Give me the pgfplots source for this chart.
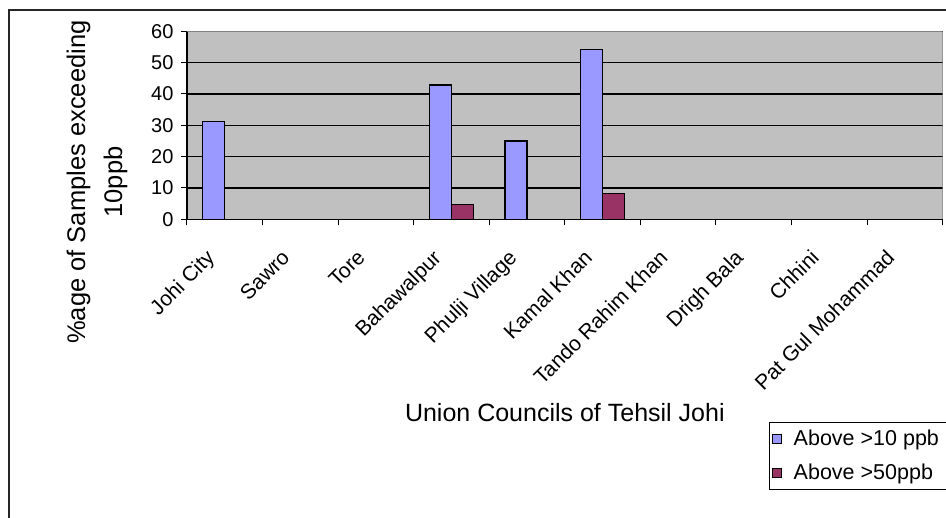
\documentclass[border=0pt]{standalone}
\usepackage{fontspec}
\setmainfont{Liberation Sans}
\usepackage{pgfplots}
\pgfplotsset{compat=1.18}
\definecolor{barblue}{HTML}{9999FF}
\definecolor{barred}{HTML}{993366}
\definecolor{plotgray}{HTML}{C0C0C0}
\begin{document}
\begin{tikzpicture}[x=1pt,y=1pt]
\path[use as bounding box] (0,0) rectangle (946,518);
\draw[line width=2pt, black!85] (9,-20) -- (9,508) -- (970,508);
\begin{axis}[
  at={(187pt,298.7pt)}, anchor=south west,
  width=755.7pt, height=188pt, scale only axis,
  xmin=-0.5, xmax=9.5, ymin=0, ymax=60,
  axis lines*=left,
  axis line style={black, line width=1.2pt},
  axis background/.style={fill=plotgray},
  ybar=0pt, bar width=22pt,
  tick align=outside,
  xtick={0,...,9},
  xticklabels={Johi City,Sawro,Tore,Bahawalpur,Phulji Village,Kamal Khan,Tando Rahim Khan,Drigh Bala,Chhini,Pat Gul Mohammad},
  major x tick style={draw=none},
  minor xtick={-0.5,0.5,...,9.5},
  minor tick length=6pt,
  minor x tick style={black, line width=1pt},
  ytick={0,10,...,60},
  major tick length=6pt,
  y tick style={black, line width=1pt},
  ymajorgrids, major grid style={black, line width=1.2pt},
  /pgf/number format/assume math mode=true,
  yticklabel style={font=\fontsize{20}{22}\selectfont, xshift=-4pt},
  xticklabel style={font=\fontsize{21}{24}\selectfont, xshift=-20pt, yshift=-23pt, rotate=45, anchor=north east, inner sep=0pt},
  xlabel={Union Councils of Tehsil Johi},
  xlabel style={font=\fontsize{25}{28}\selectfont, at={(axis description cs:0.5,-1.073)}, anchor=base},
  ylabel={\%age of Samples exceeding\\10ppb},
  ylabel style={font=\fontsize{25.5}{37}\selectfont, align=center, at={(axis description cs:-0.119,0.198)}, anchor=center},
  legend style={at={(axis description cs:0.7702,-1.0766)}, anchor=north west, draw=black, line width=1pt, fill=white,
    font=\fontsize{21.5}{24}\selectfont, row sep=17pt, inner xsep=2pt, inner ysep=8pt,
    nodes={inner xsep=6pt, inner ysep=0pt},
    /tikz/every odd column/.append style={column sep=6pt}},
  legend cell align=left,
  legend image code/.code={\draw[#1, draw=black, line width=1.2pt] (0pt,-4.5pt) rectangle (9pt,4.5pt);},
]
\addplot[fill=barblue, draw=black, line width=1.3pt] coordinates {(0,31.25) (3,42.86) (4,25) (5,54.17)};
\addplot[fill=barred, draw=black, line width=1.3pt] coordinates {(3,4.76) (5,8.33)};
\legend{Above >10 ppb, Above >50ppb\rule[-11pt]{0pt}{1pt}}
\draw[gray, line width=1.2pt] (rel axis cs:0,1) -- (rel axis cs:1,1) -- (rel axis cs:1,0);
\end{axis}
\end{tikzpicture}
\end{document}
